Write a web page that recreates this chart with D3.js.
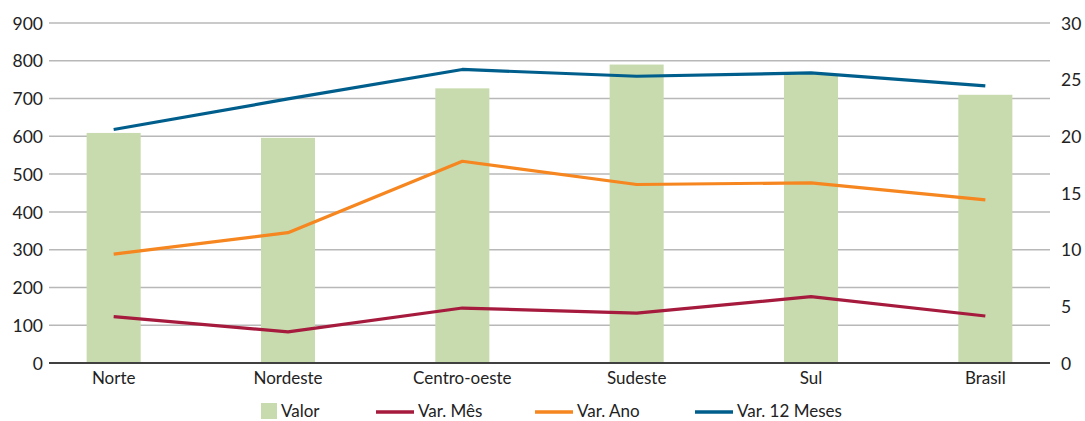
<!DOCTYPE html>
<html><head><meta charset="utf-8">
<script src="https://cdn.jsdelivr.net/npm/d3@7"></script>
<style>
body{margin:0;background:#fff;}
text{font-family:Lato,"Open Sans",sans-serif;fill:#222;}
</style></head>
<body><svg id="c" width="1085" height="421"></svg>
<script>
const categories = ["Norte","Nordeste","Centro-oeste","Sudeste","Sul","Brasil"];
const valor = [609, 596, 727, 790, 765, 710];
const varMes = [4.1, 2.75, 4.85, 4.4, 5.85, 4.15];
const varAno = [9.6, 11.5, 17.8, 15.75, 15.9, 14.4];
const var12 = [20.6, 23.3, 25.9, 25.3, 25.6, 24.45];
const leftTicks = [0,100,200,300,400,500,600,700,800,900];
const rightTicks = [0,5,10,15,20,25,30];
const seriesNames = ["Valor","Var. Mês","Var. Ano","Var. 12 Meses"];
const colors = ["#c8dbae","#a51a3d","#f6861f","#005e8c"];

const svg = d3.select("#c");
const plotL = 49, plotR = 1050, plotTop = 23, plotBottom = 363;
const x = d3.scaleBand().domain(categories).range([26.5, 1072.5]).paddingInner(0.69).paddingOuter(0.345);
const yL = d3.scaleLinear().domain([0,900]).range([plotBottom, plotTop]);
const yR = d3.scaleLinear().domain([0,30]).range([plotBottom, plotTop]);

// gridlines
svg.append("g").selectAll("line").data(leftTicks.slice(1)).join("line")
  .attr("x1", plotL).attr("x2", plotR)
  .attr("y1", d=>yL(d)).attr("y2", d=>yL(d))
  .attr("stroke","#b8b8b8").attr("stroke-width",1.5);

// bars
svg.append("g").selectAll("rect").data(valor).join("rect")
  .attr("x",(d,i)=>x(categories[i])).attr("width", x.bandwidth())
  .attr("y", d=>yL(d)).attr("height", d=>yL(0)-yL(d))
  .attr("fill", colors[0]);

// baseline
svg.append("line").attr("x1",plotL).attr("x2",plotR).attr("y1",yL(0)).attr("y2",yL(0))
  .attr("stroke","#404040").attr("stroke-width",2);

// left axis
const axL = d3.axisLeft(yL).tickValues(leftTicks).tickSize(0).tickPadding(0);
const gL = svg.append("g").attr("transform",`translate(43,0)`).call(axL);
gL.select(".domain").remove();
gL.selectAll("text").style("font-size","17.5px").attr("fill","#222").attr("dy","0.35em");

const axR = d3.axisRight(yR).tickValues(rightTicks).tickSize(0).tickPadding(0);
const gR = svg.append("g").attr("transform",`translate(1061,0)`).call(axR);
gR.select(".domain").remove();
gR.selectAll("text").style("font-size","17.5px").attr("fill","#222").attr("dy","0.35em");

const axB = d3.axisBottom(x).tickSize(0).tickPadding(0);
const gB = svg.append("g").attr("transform",`translate(0,${plotBottom+8})`).call(axB);
gB.select(".domain").remove();
gB.selectAll("text").style("font-size","17px").attr("fill","#222").attr("dy","0.75em");

// lines
const cx = c => x(c) + x.bandwidth()/2;
const lineGen = d3.line().x((d,i)=>cx(categories[i])).y(d=>yR(d));
[[varMes,colors[1]],[varAno,colors[2]],[var12,colors[3]]].forEach(([data,col])=>{
  svg.append("path").datum(data).attr("d",lineGen)
    .attr("fill","none").attr("stroke",col).attr("stroke-width",3.2)
    .attr("stroke-linejoin","round");
});

// legend
const leg = svg.append("g");
const legX = [261, 376, 535, 695];
seriesNames.forEach((n,i)=>{
  const g = leg.append("g").attr("transform",`translate(${legX[i]},0)`);
  if(i===0){
    g.append("rect").attr("x",0).attr("y",403).attr("width",16).attr("height",16).attr("fill",colors[0]);
    g.append("text").attr("x",20).attr("y",417).text(n).style("font-size","17px");
  } else {
    g.append("line").attr("x1",0).attr("x2",38).attr("y1",412).attr("y2",412)
      .attr("stroke",colors[i]).attr("stroke-width",3.5);
    g.append("text").attr("x",42).attr("y",417).text(n).style("font-size","17px");
  }
});
</script></body></html>
